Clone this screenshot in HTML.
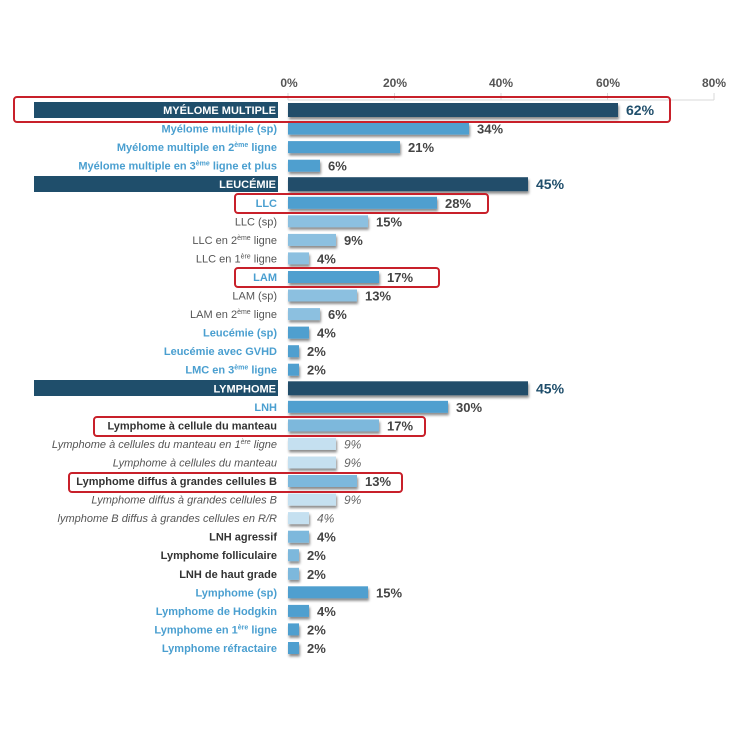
<!DOCTYPE html>
<html><head><meta charset="utf-8"><style>
html,body{margin:0;padding:0;background:#fff}
svg{display:block;font-family:"Liberation Sans",sans-serif}
.l{font-size:11px;text-anchor:end;font-weight:bold}
.b{fill:#4a9fd0}.g{fill:#555;font-weight:normal}.d{fill:#333}.i{fill:#555;font-weight:normal;font-style:italic}.w{fill:#fff;font-size:11px}
.v{font-size:13px;font-weight:bold;fill:#444}.vh{font-size:14px;font-weight:bold;fill:#1f4e6b}.vi{font-size:12px;font-style:italic;fill:#666}
.s{font-size:7px}
</style></head><body>
<svg width="731" height="731" viewBox="0 0 731 731">
<defs><filter id="sh" x="-5%" y="-30%" width="115%" height="190%"><feDropShadow dx="1" dy="2.5" stdDeviation="1.2" flood-color="#000" flood-opacity="0.45"/></filter></defs>
<g stroke="#d8d8d8" stroke-width="1">
<line x1="288" y1="100" x2="714" y2="100"/>
<line x1="288" y1="93" x2="288" y2="100"/><line x1="394.5" y1="93" x2="394.5" y2="100"/><line x1="501" y1="93" x2="501" y2="100"/><line x1="607.5" y1="93" x2="607.5" y2="100"/><line x1="714" y1="93" x2="714" y2="100"/>
</g>
<g font-size="12" font-weight="bold" fill="#555" text-anchor="middle">
<text x="289" y="87">0%</text><text x="395" y="87">20%</text><text x="501" y="87">40%</text><text x="608" y="87">60%</text><text x="714" y="87">80%</text>
</g>
<!-- header label bars -->
<rect x="34" y="102" width="244" height="16" fill="#1f4e6b"/>
<rect x="34" y="176" width="244" height="16" fill="#1f4e6b"/>
<rect x="34" y="380" width="244" height="16" fill="#1f4e6b"/>
<g filter="url(#sh)">
<rect x="288" y="103" width="330" height="14" fill="#234e6a"/>
<rect x="288" y="122.6" width="181" height="12" fill="#4f9fcf"/>
<rect x="288" y="141.1" width="112" height="12" fill="#4f9fcf"/>
<rect x="288" y="159.7" width="32" height="12" fill="#4f9fcf"/>
<rect x="288" y="177.2" width="240" height="14" fill="#234e6a"/>
<rect x="288" y="196.8" width="149" height="12" fill="#4f9fcf"/>
<rect x="288" y="215.3" width="80" height="12" fill="#8cc0e0"/>
<rect x="288" y="233.9" width="48" height="12" fill="#8cc0e0"/>
<rect x="288" y="252.4" width="21" height="12" fill="#8cc0e0"/>
<rect x="288" y="271" width="91" height="12" fill="#4f9fcf"/>
<rect x="288" y="289.5" width="69" height="12" fill="#8cc0e0"/>
<rect x="288" y="308.1" width="32" height="12" fill="#8cc0e0"/>
<rect x="288" y="326.6" width="21" height="12" fill="#4f9fcf"/>
<rect x="288" y="345.2" width="11" height="12" fill="#4f9fcf"/>
<rect x="288" y="363.7" width="11" height="12" fill="#4f9fcf"/>
<rect x="288" y="381.3" width="240" height="14" fill="#234e6a"/>
<rect x="288" y="400.8" width="160" height="12" fill="#4f9fcf"/>
<rect x="288" y="419.4" width="91" height="12" fill="#7db8dc"/>
<rect x="288" y="437.9" width="48" height="12" fill="#c5e0f0"/>
<rect x="288" y="456.5" width="48" height="12" fill="#c5e0f0"/>
<rect x="288" y="475" width="69" height="12" fill="#7db8dc"/>
<rect x="288" y="493.6" width="48" height="12" fill="#c5e0f0"/>
<rect x="288" y="512.1" width="21" height="12" fill="#c5e0f0"/>
<rect x="288" y="530.7" width="21" height="12" fill="#7db8dc"/>
<rect x="288" y="549.2" width="11" height="12" fill="#7db8dc"/>
<rect x="288" y="567.8" width="11" height="12" fill="#7db8dc"/>
<rect x="288" y="586.3" width="80" height="12" fill="#4f9fcf"/>
<rect x="288" y="604.9" width="21" height="12" fill="#4f9fcf"/>
<rect x="288" y="623.4" width="11" height="12" fill="#4f9fcf"/>
<rect x="288" y="642" width="11" height="12" fill="#4f9fcf"/>
</g>
<!-- labels -->
<text class="l w" x="276" y="114">MYÉLOME MULTIPLE</text>
<text class="l b" x="277" y="132.6">Myélome multiple (sp)</text>
<text class="l b" x="277" y="151.1">Myélome multiple en 2<tspan class="s" dy="-4">ème</tspan><tspan dy="4"> ligne</tspan></text>
<text class="l b" x="277" y="169.7">Myélome multiple en 3<tspan class="s" dy="-4">ème</tspan><tspan dy="4"> ligne et plus</tspan></text>
<text class="l w" x="276" y="188.2">LEUCÉMIE</text>
<text class="l b" x="277" y="206.8" font-weight="normal">LLC</text>
<text class="l g" x="277" y="225.3">LLC (sp)</text>
<text class="l g" x="277" y="243.9">LLC en 2<tspan class="s" dy="-4">ème</tspan><tspan dy="4"> ligne</tspan></text>
<text class="l g" x="277" y="262.4">LLC en 1<tspan class="s" dy="-4">ère</tspan><tspan dy="4"> ligne</tspan></text>
<text class="l b" x="277" y="281" font-weight="normal">LAM</text>
<text class="l g" x="277" y="299.5">LAM (sp)</text>
<text class="l g" x="277" y="318.1">LAM en 2<tspan class="s" dy="-4">ème</tspan><tspan dy="4"> ligne</tspan></text>
<text class="l b" x="277" y="336.6">Leucémie (sp)</text>
<text class="l b" x="277" y="355.2">Leucémie avec GVHD</text>
<text class="l b" x="277" y="373.7">LMC en 3<tspan class="s" dy="-4">ème</tspan><tspan dy="4"> ligne</tspan></text>
<text class="l w" x="276" y="392.3">LYMPHOME</text>
<text class="l b" x="277" y="410.8" font-weight="normal">LNH</text>
<text class="l d" x="277" y="429.4">Lymphome à cellule du manteau</text>
<text class="l i" x="277" y="447.9">Lymphome à cellules du manteau en 1<tspan class="s" dy="-4">ère</tspan><tspan dy="4"> ligne</tspan></text>
<text class="l i" x="277" y="466.5">Lymphome à cellules du manteau</text>
<text class="l d" x="277" y="485">Lymphome diffus à grandes cellules B</text>
<text class="l i" x="277" y="503.6">Lymphome diffus à grandes cellules B</text>
<text class="l i" x="277" y="522.1">lymphome B diffus à grandes cellules en R/R</text>
<text class="l d" x="277" y="540.7">LNH agressif</text>
<text class="l d" x="277" y="559.2">Lymphome folliculaire</text>
<text class="l d" x="277" y="577.8">LNH de haut grade</text>
<text class="l b" x="277" y="596.3">Lymphome (sp)</text>
<text class="l b" x="277" y="614.9">Lymphome de Hodgkin</text>
<text class="l b" x="277" y="633.4">Lymphome en 1<tspan class="s" dy="-4">ère</tspan><tspan dy="4"> ligne</tspan></text>
<text class="l b" x="277" y="652">Lymphome réfractaire</text>
<!-- values -->
<text class="vh" x="626" y="115">62%</text>
<text class="v" x="477" y="133.6">34%</text>
<text class="v" x="408" y="152.1">21%</text>
<text class="v" x="328" y="170.7">6%</text>
<text class="vh" x="536" y="189.2">45%</text>
<text class="v" x="445" y="207.8">28%</text>
<text class="v" x="376" y="226.3">15%</text>
<text class="v" x="344" y="244.9">9%</text>
<text class="v" x="317" y="263.4">4%</text>
<text class="v" x="387" y="282">17%</text>
<text class="v" x="365" y="300.5">13%</text>
<text class="v" x="328" y="319.1">6%</text>
<text class="v" x="317" y="337.6">4%</text>
<text class="v" x="307" y="356.2">2%</text>
<text class="v" x="307" y="374.7">2%</text>
<text class="vh" x="536" y="393.3">45%</text>
<text class="v" x="456" y="411.8">30%</text>
<text class="v" x="387" y="430.4">17%</text>
<text class="vi" x="344" y="448.4">9%</text>
<text class="vi" x="344" y="467">9%</text>
<text class="v" x="365" y="486">13%</text>
<text class="vi" x="344" y="504.1">9%</text>
<text class="vi" x="317" y="522.6">4%</text>
<text class="v" x="317" y="541.7">4%</text>
<text class="v" x="307" y="560.2">2%</text>
<text class="v" x="307" y="578.8">2%</text>
<text class="v" x="376" y="597.3">15%</text>
<text class="v" x="317" y="615.9">4%</text>
<text class="v" x="307" y="634.4">2%</text>
<text class="v" x="307" y="653">2%</text>
<!-- red boxes -->
<g fill="none" stroke="#c8202a" stroke-width="2">
<rect x="14" y="97" width="656" height="25" rx="3"/>
<rect x="235" y="194" width="253" height="19" rx="3"/>
<rect x="235" y="268" width="204" height="19" rx="3"/>
<rect x="94" y="417" width="331" height="19" rx="3"/>
<rect x="69" y="473" width="333" height="19" rx="3"/>
</g>
</svg>
</body></html>
